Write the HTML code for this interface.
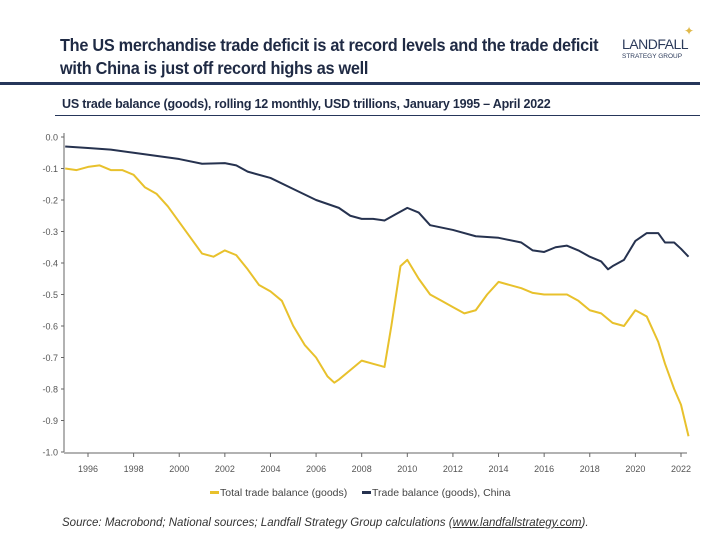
<!DOCTYPE html>
<html><head><meta charset="utf-8">
<style>
body{margin:0;background:#fff;font-family:"Liberation Sans",sans-serif;}
#wrap{position:relative;width:720px;height:540px;overflow:hidden;background:#fff;}
.title{position:absolute;left:60px;top:34px;font-size:17.5px;font-weight:bold;color:#1f2a44;line-height:23px;letter-spacing:-0.3px;transform:scaleX(0.93);transform-origin:0 0;white-space:nowrap;}
.logo{position:absolute;left:622px;top:28px;color:#2b3a5a;}
.rule{position:absolute;left:0;top:82px;width:700px;height:3px;background:#26365a;}
.sub{position:absolute;left:62px;top:97px;font-size:12.5px;font-weight:bold;color:#1f2a44;letter-spacing:-0.2px;}
.subrule{position:absolute;left:55px;top:115px;width:645px;height:1px;background:#26365a;}
.src{position:absolute;left:62px;top:517px;font-size:11.5px;font-style:italic;color:#333;}
svg text{font-family:"Liberation Sans",sans-serif;}
</style></head><body>
<div id="wrap">
<div class="title">The US merchandise trade deficit is at record levels and the trade deficit<br>with China is just off record highs as well</div>
<div class="logo">
<div style="font-size:14px;letter-spacing:-0.5px;margin-top:8px">LANDFALL</div>
<div style="font-size:6.5px;margin-top:1px">STRATEGY GROUP</div>
<div style="position:absolute;left:62px;top:-4px;color:#e0b94a;font-size:12px">✦</div>
</div>
<div class="rule"></div>
<div class="sub">US trade balance (goods), rolling 12 monthly, USD trillions, January 1995 – April 2022</div>
<div class="subrule"></div>
<svg id="chart" width="720" height="540" style="position:absolute;left:0;top:0"></svg>
<div class="src">Source: Macrobond; National sources; Landfall Strategy Group calculations (<u>www.landfallstrategy.com</u>).</div>
</div>
<script>
const chinaYears=[1995,1996,1997,1998,1999,2000,2001,2002,2002.5,2003,2004,2005,2006,2007,2007.5,2008,2008.5,2009,2009.5,2010,2010.5,2011,2012,2013,2014,2015,2015.5,2016,2016.5,2017,2017.5,2018,2018.5,2018.8,2019,2019.5,2020,2020.5,2021,2021.3,2021.7,2022,2022.33];
const chinaValues=[-0.03,-0.035,-0.04,-0.05,-0.06,-0.07,-0.085,-0.083,-0.09,-0.11,-0.13,-0.165,-0.2,-0.225,-0.25,-0.26,-0.26,-0.265,-0.245,-0.225,-0.24,-0.28,-0.295,-0.315,-0.32,-0.335,-0.36,-0.365,-0.35,-0.345,-0.36,-0.38,-0.395,-0.42,-0.41,-0.39,-0.33,-0.305,-0.305,-0.335,-0.335,-0.355,-0.38];
const totalYears=[1995,1995.5,1996,1996.5,1997,1997.5,1998,1998.5,1999,1999.5,2000,2000.5,2001,2001.5,2002,2002.5,2003,2003.5,2004,2004.5,2005,2005.5,2006,2006.5,2006.8,2007,2007.5,2008,2008.5,2009,2009.3,2009.7,2010,2010.5,2011,2011.5,2012,2012.5,2013,2013.5,2014,2014.5,2015,2015.5,2016,2016.5,2017,2017.5,2018,2018.5,2019,2019.5,2020,2020.5,2021,2021.3,2021.7,2022,2022.33];
const totalValues=[-0.10,-0.105,-0.095,-0.09,-0.105,-0.105,-0.12,-0.16,-0.18,-0.22,-0.27,-0.32,-0.37,-0.38,-0.36,-0.375,-0.42,-0.47,-0.49,-0.52,-0.6,-0.66,-0.7,-0.76,-0.78,-0.77,-0.74,-0.71,-0.72,-0.73,-0.6,-0.41,-0.39,-0.45,-0.5,-0.52,-0.54,-0.56,-0.55,-0.5,-0.46,-0.47,-0.48,-0.495,-0.5,-0.5,-0.5,-0.52,-0.55,-0.56,-0.59,-0.6,-0.55,-0.57,-0.65,-0.72,-0.8,-0.85,-0.95];
const yTicks=[0,-0.1,-0.2,-0.3,-0.4,-0.5,-0.6,-0.7,-0.8,-0.9,-1.0];
const xTicks=[1996,1998,2000,2002,2004,2006,2008,2010,2012,2014,2016,2018,2020,2022];

const NS='http://www.w3.org/2000/svg';
const svg=document.getElementById('chart');
const X0=64,X1=687;
function x(v){return 88+(v-1996)*(681-88)/26;}
function y(v){return 137+(-v)*315;}
function mk(tag,attrs){const e=document.createElementNS(NS,tag);for(const k in attrs)e.setAttribute(k,attrs[k]);svg.appendChild(e);return e;}

let ax=mk('line',{x1:X0,y1:133,x2:X0,y2:y(-1),stroke:'#666','stroke-width':1});


let bx=mk('line',{x1:X0,y1:y(-1)+1,x2:X1,y2:y(-1)+1,stroke:'#666','stroke-width':1});


yTicks.forEach(v=>{
  const t=mk('line',{x1:X0-3,x2:X0,y1:y(v),y2:y(v),stroke:'#666'});
  
  
  const l=mk('text',{x:X0-6,y:y(v)+3.5,'text-anchor':'end','font-size':9,fill:'#555'});
  l.textContent=v.toFixed(1);
  
  
});
xTicks.forEach(v=>{
  const t=mk('line',{x1:x(v),x2:x(v),y1:y(-1)+1,y2:y(-1)+5,stroke:'#666'});
  
  
  const l=mk('text',{x:x(v),y:y(-1)+20,'text-anchor':'middle','font-size':9,fill:'#555'});
  l.textContent=v;
  
  
});
function line(xs,vs,col,name){
  const p=mk('polyline',{points:xs.map((a,i)=>x(a)+','+y(vs[i])).join(' '),fill:'none',stroke:col,'stroke-width':2,'stroke-linejoin':'round'});
  
  
}
line(totalYears,totalValues,'#e8c12c','total-trade-balance-line');
line(chinaYears,chinaValues,'#26324f','china-trade-balance-line');

const lg=[[210,'#e8c12c','Total trade balance (goods)'],[362,'#26324f','Trade balance (goods), China']];
lg.forEach(([lx,c,t],i)=>{
  const r=mk('rect',{x:lx,y:491,width:9,height:3,fill:c});
  
  
  const tx=mk('text',{x:lx+10,y:496,'font-size':10.5,fill:'#444'});
  tx.textContent=t;
  
  
});
</script>
</body></html>
